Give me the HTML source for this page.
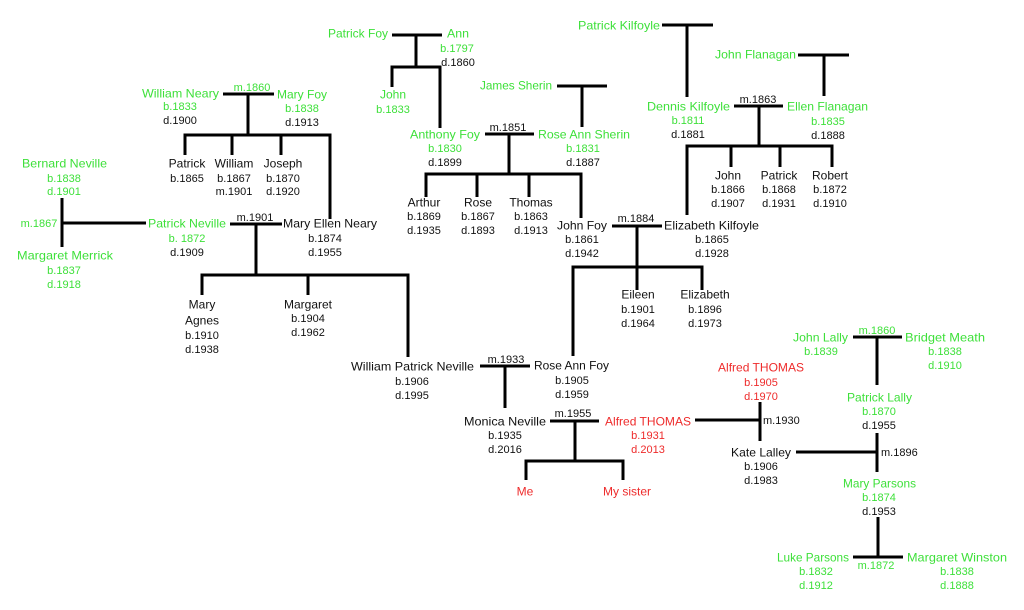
<!DOCTYPE html>
<html><head><meta charset="utf-8"><style>
html,body{margin:0;padding:0;background:#fff;}
svg{display:block;}
text{font-family:"Liberation Sans",sans-serif;fill:#111;}
.n{font-size:12px;}
.d{font-size:11px;text-anchor:middle;}
.m{text-anchor:middle;}
.g{fill:#3ee03a;}
.r{fill:#ee2b2b;}
</style></head><body>
<svg width="1024" height="610" viewBox="0 0 1024 610" xmlns="http://www.w3.org/2000/svg">
<rect width="1024" height="610" fill="#fff"/>
<path fill="none" stroke="#000" stroke-width="3" stroke-linejoin="miter" d="
M392 35H442 M416 35V67 M392 87V67H440V128
M557 86H607 M582 86V127
M485 134H534 M509 134V174 M426 197V174H581V218 M477 174V197 M529 174V197
M662 25H713 M687 25V97
M798 55H849 M824 55V96
M734 106H783 M759 106V146 M687 215V146H832V167 M731 146V167 M780 146V167
M612 226H662 M637 226V290 M573 356V267H702V290
M223 94H274 M248 94V135 M185 155V135H330V219 M232 135V155 M281 135V155
M62 198V247 M62 223H146
M230 224H282 M256 224V275 M202 295V275H408V357 M308 275V295
M480 366H530 M505 366V408
M550 421H599 M575 421V461 M526 480V461H623V480
M695 420H760 M760 402V441
M796 452H877 M877 433V472
M853 337H902 M877 337V385
M878 517V557 M853 557H903
"/>

<!-- Foy top -->
<text class="n g" x="328" y="37.5" textLength="60" lengthAdjust="spacingAndGlyphs">Patrick Foy</text>
<text class="n g" x="447" y="37.5" textLength="22" lengthAdjust="spacingAndGlyphs">Ann</text>
<text class="d g" x="457" y="52">b.1797</text>
<text class="d" x="458" y="66">d.1860</text>
<text class="n g m" x="393" y="98.5">John</text>
<text class="d g" x="393" y="113">b.1833</text>
<text class="n g" x="410" y="138.5" textLength="70" lengthAdjust="spacingAndGlyphs">Anthony Foy</text>
<text class="d g" x="445" y="152">b.1830</text>
<text class="d" x="445" y="166">d.1899</text>

<!-- Sherin -->
<text class="n g" x="480" y="89.5" textLength="72" lengthAdjust="spacingAndGlyphs">James Sherin</text>
<text class="n g" x="538" y="138.5" textLength="92" lengthAdjust="spacingAndGlyphs">Rose Ann Sherin</text>
<text class="d g" x="583" y="152">b.1831</text>
<text class="d" x="583" y="166">d.1887</text>
<text class="d" x="508" y="131">m.1851</text>

<text class="n m" x="424" y="206.5">Arthur</text>
<text class="d" x="424" y="220">b.1869</text>
<text class="d" x="424" y="234">d.1935</text>
<text class="n m" x="478" y="206.5">Rose</text>
<text class="d" x="478" y="220">b.1867</text>
<text class="d" x="478" y="234">d.1893</text>
<text class="n m" x="531" y="206.5">Thomas</text>
<text class="d" x="531" y="220">b.1863</text>
<text class="d" x="531" y="234">d.1913</text>

<!-- Kilfoyle -->
<text class="n g" x="578" y="29.5" textLength="82" lengthAdjust="spacingAndGlyphs">Patrick Kilfoyle</text>
<text class="n g" x="715" y="58.5" textLength="81" lengthAdjust="spacingAndGlyphs">John Flanagan</text>
<text class="n g" x="647" y="110.5" textLength="83" lengthAdjust="spacingAndGlyphs">Dennis Kilfoyle</text>
<text class="d g" x="688" y="124">b.1811</text>
<text class="d" x="688" y="138">d.1881</text>
<text class="d" x="758" y="103">m.1863</text>
<text class="n g" x="787" y="110.5" textLength="81" lengthAdjust="spacingAndGlyphs">Ellen Flanagan</text>
<text class="d g" x="828" y="125">b.1835</text>
<text class="d" x="828" y="139">d.1888</text>

<text class="n m" x="728" y="179.5">John</text>
<text class="d" x="728" y="193">b.1866</text>
<text class="d" x="728" y="207">d.1907</text>
<text class="n m" x="779" y="179.5">Patrick</text>
<text class="d" x="779" y="193">b.1868</text>
<text class="d" x="779" y="207">d.1931</text>
<text class="n m" x="830" y="179.5">Robert</text>
<text class="d" x="830" y="193">b.1872</text>
<text class="d" x="830" y="207">d.1910</text>

<!-- John Foy / Elizabeth Kilfoyle -->
<text class="n" x="557" y="229.5" textLength="50" lengthAdjust="spacingAndGlyphs">John Foy</text>
<text class="d" x="582" y="243">b.1861</text>
<text class="d" x="582" y="257">d.1942</text>
<text class="d" x="636" y="222">m.1884</text>
<text class="n" x="664" y="229.5" textLength="95" lengthAdjust="spacingAndGlyphs">Elizabeth Kilfoyle</text>
<text class="d" x="712" y="243">b.1865</text>
<text class="d" x="712" y="257">d.1928</text>
<text class="n m" x="638" y="298.5">Eileen</text>
<text class="d" x="638" y="313">b.1901</text>
<text class="d" x="638" y="327">d.1964</text>
<text class="n m" x="705" y="298.5">Elizabeth</text>
<text class="d" x="705" y="313">b.1896</text>
<text class="d" x="705" y="327">d.1973</text>

<!-- Neary -->
<text class="n g" x="142" y="97.5" textLength="77" lengthAdjust="spacingAndGlyphs">William Neary</text>
<text class="d g" x="180" y="110">b.1833</text>
<text class="d" x="180" y="124">d.1900</text>
<text class="d g" x="252" y="91">m.1860</text>
<text class="n g" x="277" y="98.5" textLength="50" lengthAdjust="spacingAndGlyphs">Mary Foy</text>
<text class="d g" x="302" y="112">b.1838</text>
<text class="d" x="302" y="126">d.1913</text>
<text class="n m" x="187" y="167.5">Patrick</text>
<text class="d" x="187" y="182">b.1865</text>
<text class="n m" x="234" y="167.5">William</text>
<text class="d" x="234" y="182">b.1867</text>
<text class="d" x="234" y="195">m.1901</text>
<text class="n m" x="283" y="167.5">Joseph</text>
<text class="d" x="283" y="182">b.1870</text>
<text class="d" x="283" y="195">d.1920</text>

<!-- Bernard Neville -->
<text class="n g" x="22" y="167.5" textLength="85" lengthAdjust="spacingAndGlyphs">Bernard Neville</text>
<text class="d g" x="64" y="182">b.1838</text>
<text class="d g" x="64" y="195">d.1901</text>
<text class="d g" x="39" y="227">m.1867</text>
<text class="n g" x="17" y="259.5" textLength="96" lengthAdjust="spacingAndGlyphs">Margaret Merrick</text>
<text class="d g" x="64" y="274">b.1837</text>
<text class="d g" x="64" y="288">d.1918</text>

<!-- Patrick Neville -->
<text class="n g" x="148" y="227.5" textLength="78" lengthAdjust="spacingAndGlyphs">Patrick Neville</text>
<text class="d g" x="187" y="242">b. 1872</text>
<text class="d" x="187" y="256">d.1909</text>
<text class="d" x="255" y="221">m.1901</text>
<text class="n" x="283" y="227.5" textLength="94" lengthAdjust="spacingAndGlyphs">Mary Ellen Neary</text>
<text class="d" x="325" y="242">b.1874</text>
<text class="d" x="325" y="256">d.1955</text>

<text class="n m" x="202" y="308.5">Mary</text>
<text class="n m" x="202" y="324.5">Agnes</text>
<text class="d" x="202" y="339">b.1910</text>
<text class="d" x="202" y="353">d.1938</text>
<text class="n m" x="308" y="308.5">Margaret</text>
<text class="d" x="308" y="322">b.1904</text>
<text class="d" x="308" y="336">d.1962</text>

<!-- WPN / Rose Ann Foy -->
<text class="n" x="351" y="370.5" textLength="123" lengthAdjust="spacingAndGlyphs">William Patrick Neville</text>
<text class="d" x="412" y="385">b.1906</text>
<text class="d" x="412" y="399">d.1995</text>
<text class="d" x="506" y="363">m.1933</text>
<text class="n" x="534" y="369.5" textLength="75" lengthAdjust="spacingAndGlyphs">Rose Ann Foy</text>
<text class="d" x="572" y="384">b.1905</text>
<text class="d" x="572" y="398">d.1959</text>

<!-- Monica / Alfred -->
<text class="n" x="464" y="425.5" textLength="82" lengthAdjust="spacingAndGlyphs">Monica Neville</text>
<text class="d" x="505" y="439">b.1935</text>
<text class="d" x="505" y="453">d.2016</text>
<text class="d" x="573" y="417">m.1955</text>
<text class="n r" x="605" y="425.5" textLength="86" lengthAdjust="spacingAndGlyphs">Alfred THOMAS</text>
<text class="d r" x="648" y="439">b.1931</text>
<text class="d r" x="648" y="453">d.2013</text>
<text class="n r m" x="525" y="495.5">Me</text>
<text class="n r m" x="627" y="495.5">My sister</text>

<!-- Alfred THOMAS 1905 / Kate Lalley -->
<text class="n r" x="718" y="371.5" textLength="86" lengthAdjust="spacingAndGlyphs">Alfred THOMAS</text>
<text class="d r" x="761" y="386">b.1905</text>
<text class="d r" x="761" y="400">d.1970</text>
<text class="d" x="763" y="424" style="text-anchor:start">m.1930</text>
<text class="n" x="731" y="456.5" textLength="60" lengthAdjust="spacingAndGlyphs">Kate Lalley</text>
<text class="d" x="761" y="470">b.1906</text>
<text class="d" x="761" y="484">d.1983</text>
<text class="d" x="881" y="456" style="text-anchor:start">m.1896</text>

<!-- Lally -->
<text class="n g" x="793" y="341.5" textLength="55" lengthAdjust="spacingAndGlyphs">John Lally</text>
<text class="d g" x="821" y="355">b.1839</text>
<text class="d g" x="877" y="334">m.1860</text>
<text class="n g" x="905" y="341.5" textLength="80" lengthAdjust="spacingAndGlyphs">Bridget Meath</text>
<text class="d g" x="945" y="355">b.1838</text>
<text class="d g" x="945" y="369">d.1910</text>
<text class="n g" x="847" y="401.5" textLength="65" lengthAdjust="spacingAndGlyphs">Patrick Lally</text>
<text class="d g" x="879" y="415">b.1870</text>
<text class="d" x="879" y="429">d.1955</text>

<!-- Parsons -->
<text class="n g" x="843" y="487.5" textLength="73" lengthAdjust="spacingAndGlyphs">Mary Parsons</text>
<text class="d g" x="879" y="501">b.1874</text>
<text class="d" x="879" y="515">d.1953</text>
<text class="n g" x="777" y="561.5" textLength="72" lengthAdjust="spacingAndGlyphs">Luke Parsons</text>
<text class="d g" x="816" y="575">b.1832</text>
<text class="d g" x="816" y="589">d.1912</text>
<text class="d g" x="876" y="569">m.1872</text>
<text class="n g" x="907" y="561.5" textLength="100" lengthAdjust="spacingAndGlyphs">Margaret Winston</text>
<text class="d g" x="957" y="575">b.1838</text>
<text class="d g" x="957" y="589">d.1888</text>
</svg>
</body></html>
